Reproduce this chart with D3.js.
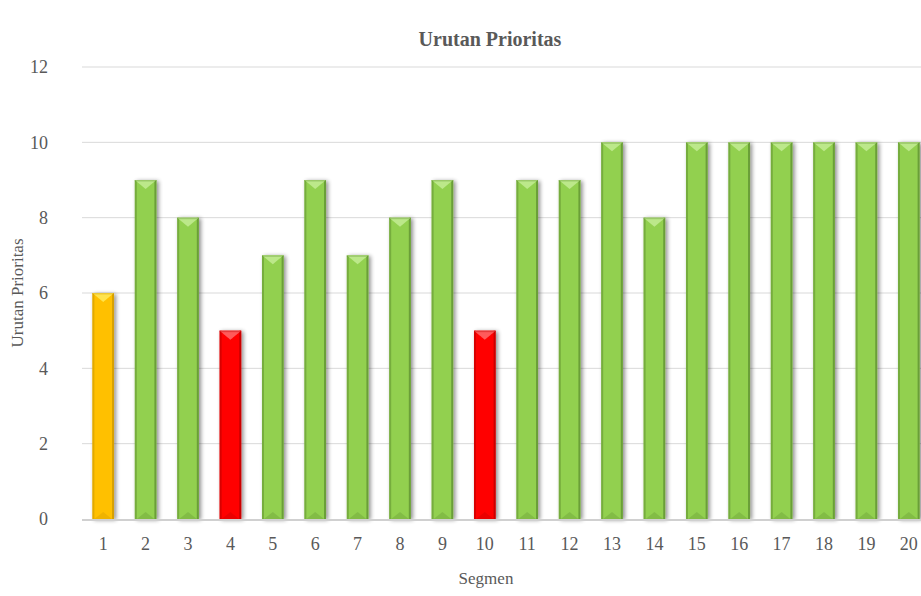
<!DOCTYPE html>
<html>
<head>
<meta charset="utf-8">
<script src="https://cdn.jsdelivr.net/npm/d3@7"></script>
<style>
  body { margin: 0; background: #fff; }
  text { font-family: "Liberation Serif", "DejaVu Serif", serif; fill: #595959; }
</style>
</head>
<body>
<div id="chart"></div>
<script>
// data
const segments = ["1","2","3","4","5","6","7","8","9","10","11","12","13","14","15","16","17","18","19","20"];
const priorities = [6, 9, 8, 5, 7, 9, 7, 8, 9, 5, 9, 9, 10, 8, 10, 10, 10, 10, 10, 10];
const levels = ["mid","high","high","low","high","high","high","high","high","low",
                "high","high","high","high","high","high","high","high","high","high"];
const yTicks = [0, 2, 4, 6, 8, 10, 12];

const palette = {
  mid:  { base: "#FFC000", light: "#FFE34D", dark: "#C99600" },
  high: { base: "#92D050", light: "#BCE88A", dark: "#5E8F30" },
  low:  { base: "#FF0000", light: "#FF5A5A", dark: "#B80000" }
};

const width = 921, height = 596;
const margin = { top: 67, right: -9, bottom: 77, left: 82 };

const svg = d3.select("#chart").append("svg")
  .attr("width", width).attr("height", height);

const defs = svg.append("defs");
const shadow = defs.append("filter").attr("id", "shadow")
  .attr("x", "-50%").attr("y", "-10%").attr("width", "200%").attr("height", "120%");
shadow.append("feGaussianBlur").attr("in", "SourceAlpha").attr("stdDeviation", 2.2);
shadow.append("feOffset").attr("dx", 2).attr("dy", 1).attr("result", "blur");
shadow.append("feComponentTransfer").append("feFuncA").attr("type", "linear").attr("slope", 0.45);
const merge = shadow.append("feMerge");
merge.append("feMergeNode");
merge.append("feMergeNode").attr("in", "SourceGraphic");

const x = d3.scaleBand().domain(segments)
  .range([margin.left, width - margin.right]).paddingInner(0.49).paddingOuter(0.245);
const y = d3.scaleLinear().domain([0, 12]).range([height - margin.bottom, margin.top]);

// gridlines
svg.append("g").selectAll("line").data(yTicks.slice(1)).join("line")
  .attr("x1", margin.left).attr("x2", width)
  .attr("y1", d => y(d)).attr("y2", d => y(d))
  .attr("stroke", "#d9d9d9").attr("stroke-width", 1);

// title
svg.append("text").attr("x", 490).attr("y", 46)
  .attr("text-anchor", "middle").attr("font-size", 20).attr("font-weight", "bold")
  .text("Urutan Prioritas");

// bars
const bars = svg.append("g").selectAll("g").data(priorities).join("g")
  .attr("filter", "url(#shadow)");

bars.each(function (v, i) {
  const g = d3.select(this);
  const c = palette[levels[i]];
  const x0 = x(segments[i]), w = x.bandwidth();
  const y0 = y(v), y1 = y(0);
  g.append("rect").attr("x", x0).attr("y", y0).attr("width", w).attr("height", y1 - y0)
    .attr("fill", c.base);
  // side bevels
  g.append("rect").attr("x", x0).attr("y", y0).attr("width", 2).attr("height", y1 - y0)
    .attr("fill", c.dark).attr("opacity", 0.55);
  g.append("rect").attr("x", x0 + w - 2).attr("y", y0).attr("width", 2).attr("height", y1 - y0)
    .attr("fill", c.dark).attr("opacity", 0.75);
  // top bevel
  g.append("path")
    .attr("d", `M${x0},${y0}L${x0 + w},${y0}L${x0 + w / 2},${y0 + 9}Z`)
    .attr("fill", c.light);
  g.append("rect").attr("x", x0).attr("y", y0).attr("width", w).attr("height", 1.5)
    .attr("fill", c.dark).attr("opacity", 0.35);
  // bottom bevel
  g.append("path")
    .attr("d", `M${x0 + 2},${y1}L${x0 + w / 2},${y1 - 7}L${x0 + w - 2},${y1}Z`)
    .attr("fill", c.dark).attr("opacity", 0.3);
});

// baseline
svg.append("line").attr("x1", margin.left).attr("x2", width)
  .attr("y1", y(0) + 1).attr("y2", y(0) + 1)
  .attr("stroke", "#d0d0d0").attr("stroke-width", 2);

// y axis
const yAxis = svg.append("g").attr("transform", `translate(${margin.left},0)`)
  .call(d3.axisLeft(y).tickValues(yTicks).tickSize(0).tickPadding(34));
yAxis.select(".domain").remove();
yAxis.selectAll("text").attr("font-size", 18).attr("font-family", null);

// x axis
const xAxis = svg.append("g").attr("transform", `translate(0,${y(0)})`)
  .call(d3.axisBottom(x).tickSize(0).tickPadding(18));
xAxis.select(".domain").remove();
xAxis.selectAll("text").attr("font-size", 18).attr("font-family", null);

// axis titles
svg.append("text").attr("x", 486).attr("y", 584)
  .attr("text-anchor", "middle").attr("font-size", 17).text("Segmen");
svg.append("text").attr("transform", "translate(23,293) rotate(-90)")
  .attr("text-anchor", "middle").attr("font-size", 17).text("Urutan Prioritas");
</script>
</body>
</html>
